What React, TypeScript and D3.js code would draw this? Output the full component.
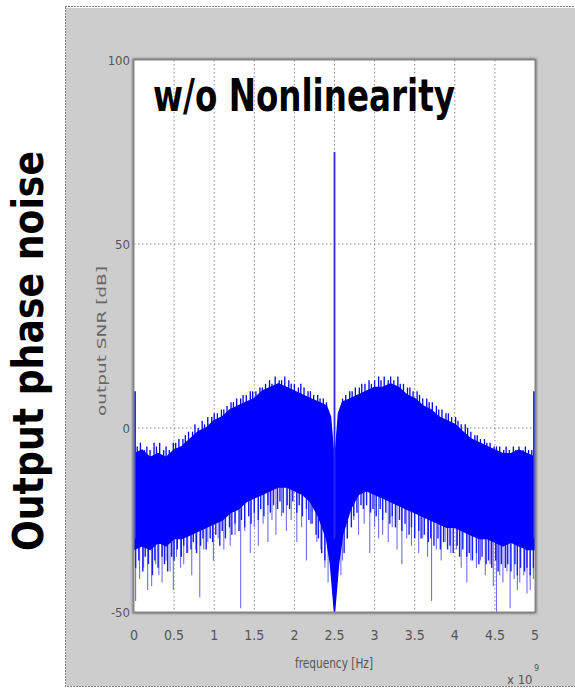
import React from 'react';
import * as d3 from 'd3';

const W = 575;
const H = 689;
const PLOT = { left: 134, right: 535, top: 60, bottom: 612 };

// x tick labels (in units of 1e9 Hz) and y ticks (dB)
const xTicks = [0, 0.5, 1, 1.5, 2, 2.5, 3, 3.5, 4, 4.5, 5];
const xTickLabels = ['0', '0.5', '1', '1.5', '2', '2.5', '3', '3.5', '4', '4.5', '5'];
const yTicks = [-50, 0, 50, 100];

// dense noise band: frequency, top edge, bottom edge (dB)
const bandFreq = [
  0, 0.1, 0.2, 0.3, 0.4, 0.5, 0.6, 0.7, 0.8, 0.9, 1.0, 1.1, 1.2, 1.3, 1.4, 1.5, 1.6, 1.7, 1.8, 1.9,
  2.0, 2.1, 2.2, 2.3, 2.4, 2.45, 2.5, 2.55, 2.6, 2.7, 2.8, 2.9, 3.0, 3.1, 3.2, 3.3, 3.4, 3.5, 3.6,
  3.7, 3.8, 3.9, 4.0, 4.1, 4.2, 4.3, 4.4, 4.5, 4.6, 4.7, 4.8, 4.9, 5.0,
];
const bandTop = [
  -7, -6, -8, -7, -8, -6, -5, -3, -1, 0, 2, 3, 5, 6, 7, 8, 10, 11, 12, 11,
  10, 9, 8, 7, 6, 3, -10, 4, 7, 8, 9, 10, 11, 11, 12, 11, 9, 8, 6,
  5, 3, 2, 1, -1, -3, -4, -5, -6, -7, -7, -6, -7, -8,
];
const bandBottom = [
  -33, -32, -33, -31, -32, -30, -30, -29, -28, -27, -26, -25, -23, -22, -20, -19, -18, -17, -16, -16,
  -17, -18, -20, -24, -30, -37, -50, -37, -29, -22, -18, -17, -18, -19, -20, -21, -22, -23, -24,
  -25, -26, -27, -27, -28, -29, -30, -30, -31, -32, -31, -32, -33, -33,
];

// ragged top fringe of the band
const topFringeFreq = [
  0.04, 0.08, 0.13, 0.16, 0.2, 0.25, 0.28, 0.32, 0.37, 0.4, 0.44, 0.49, 0.52, 0.56, 0.61, 0.64, 0.68, 0.73,
  0.76, 0.8, 0.85, 0.88, 0.92, 0.97, 1.0, 1.04, 1.09, 1.12, 1.16, 1.21, 1.24, 1.28, 1.33, 1.36, 1.4, 1.45,
  1.48, 1.52, 1.57, 1.6, 1.64, 1.69, 1.72, 1.76, 1.81, 1.84, 1.88, 1.93, 1.96, 2.0, 2.05, 2.08, 2.12, 2.17,
  2.2, 2.24, 2.29, 2.32, 2.36, 2.4,
  2.6, 2.64, 2.69, 2.72, 2.76, 2.81, 2.84, 2.88, 2.93, 2.96, 3.0, 3.05, 3.08, 3.12, 3.17, 3.2, 3.24, 3.29,
  3.32, 3.36, 3.41, 3.44, 3.48, 3.53, 3.56, 3.6, 3.65, 3.68, 3.72, 3.77, 3.8, 3.84, 3.89, 3.92, 3.96, 4.01,
  4.04, 4.08, 4.13, 4.16, 4.2, 4.25, 4.28, 4.32, 4.37, 4.4, 4.44, 4.49, 4.52, 4.56, 4.61, 4.64, 4.68, 4.73,
  4.76, 4.8, 4.85, 4.88, 4.92, 4.96,
];
const topFringeVal = [
  -5, -4, -6, -5, -6, -4, -5, -4, -6, -5, -6, -4, -4, -3, -3, -2, -1, -1,
  1, 0, 2, 1, 3, 3, 4, 4, 5, 5, 6, 7, 7, 8, 8, 9, 9, 10,
  10, 10, 11, 11, 12, 13, 12, 14, 13, 13, 14, 13, 12, 12, 11, 12, 11, 10,
  10, 9, 9, 8, 8, 7,
  8, 9, 10, 10, 11, 11, 12, 12, 13, 12, 13, 14, 13, 14, 13, 14, 13, 14,
  12, 12, 11, 11, 10, 10, 9, 8, 8, 7, 7, 6, 5, 5, 4, 4, 3, 3,
  2, 1, 1, 0, -1, -2, -2, -3, -3, -4, -4, -5, -5, -5, -6, -5, -6, -5,
  -6, -5, -6, -5, -6, -6,
];

// ragged bottom fringe of the band
const lowFringeFreq = [
  0.02, 0.06, 0.11, 0.14, 0.18, 0.23, 0.26, 0.3, 0.35, 0.38, 0.42, 0.47, 0.5, 0.54, 0.59, 0.62, 0.66, 0.71,
  0.74, 0.78, 0.83, 0.86, 0.9, 0.95, 0.98, 1.02, 1.07, 1.1, 1.14, 1.19, 1.22, 1.26, 1.31, 1.34, 1.38, 1.43,
  1.46, 1.5, 1.55, 1.58, 1.62, 1.67, 1.7, 1.74, 1.79, 1.82, 1.86, 1.91, 1.94, 1.98, 2.03, 2.06, 2.1, 2.15,
  2.18, 2.22, 2.27, 2.3, 2.34, 2.38,
  2.62, 2.66, 2.71, 2.74, 2.78, 2.83, 2.86, 2.9, 2.95, 2.98, 3.02, 3.07, 3.1, 3.14, 3.19, 3.22, 3.26, 3.31,
  3.34, 3.38, 3.43, 3.46, 3.5, 3.55, 3.58, 3.62, 3.67, 3.7, 3.74, 3.79, 3.82, 3.86, 3.91, 3.94, 3.98, 4.03,
  4.06, 4.1, 4.15, 4.18, 4.22, 4.27, 4.3, 4.34, 4.39, 4.42, 4.46, 4.51, 4.54, 4.58, 4.63, 4.66, 4.7, 4.75,
  4.78, 4.82, 4.87, 4.9, 4.94, 4.98,
];
const lowFringeVal = [
  -38, -36, -39, -35, -37, -40, -36, -38, -35, -37, -39, -35, -36, -33, -35, -32, -34, -33,
  -31, -34, -32, -30, -33, -30, -31, -29, -32, -28, -30, -27, -29, -26, -28, -25, -27, -24,
  -26, -23, -25, -22, -24, -21, -23, -21, -22, -20, -23, -21, -22, -20, -23, -21, -24, -22,
  -25, -26, -29, -30, -34, -36,
  -34, -30, -27, -24, -23, -21, -22, -21, -23, -22, -24, -22, -25, -23, -26, -24, -27, -25,
  -28, -26, -29, -27, -30, -28, -30, -29, -31, -30, -32, -30, -33, -31, -33, -32, -34, -32,
  -35, -33, -35, -34, -36, -34, -37, -35, -37, -36, -38, -36, -39, -37, -38, -37, -39, -37,
  -40, -38, -39, -38, -40, -38,
];

// deeper dips below the dense band
const dipFreq = [
  0.02, 0.07, 0.12, 0.17, 0.22, 0.27, 0.31, 0.35, 0.4, 0.45, 0.49, 0.53, 0.58, 0.62, 0.67, 0.72, 0.77, 0.82,
  0.87, 0.92, 0.99, 1.05, 1.12, 1.2, 1.26, 1.33, 1.38, 1.45, 1.5, 1.55, 1.61, 1.67, 1.72, 1.77, 1.84, 1.9,
  1.96, 2.03, 2.09, 2.15, 2.2, 2.28, 2.33, 2.38, 2.42, 2.58, 2.6, 2.66, 2.74, 2.8, 2.87, 2.94, 3.0, 3.05,
  3.1, 3.17, 3.22, 3.28, 3.34, 3.4, 3.46, 3.55, 3.6, 3.66, 3.71, 3.77, 3.83, 3.88, 3.95, 4.02, 4.08, 4.15,
  4.2, 4.27, 4.32, 4.38, 4.44, 4.48, 4.52, 4.56, 4.6, 4.65, 4.69, 4.74, 4.78, 4.81, 4.86, 4.9, 4.94, 4.98,
];
const dipVal = [
  -47, -41, -38, -44, -43, -37, -40, -42, -36, -39, -44, -35, -38, -37, -34, -40, -33, -46,
  -33, -31, -36, -30, -33, -32, -29, -49, -28, -34, -27, -32, -26, -31, -25, -29, -24, -28,
  -25, -31, -27, -36, -26, -31, -33, -38, -42, -40, -36, -30, -25, -29, -26, -34, -27, -30,
  -29, -31, -27, -33, -37, -30, -32, -34, -30, -35, -47, -33, -36, -31, -34, -33, -38, -42,
  -36, -38, -36, -40, -37, -43, -50, -40, -42, -39, -49, -41, -44, -42, -40, -45, -44, -41,
];

// isolated spectral lines: carrier and the two band edges
const lineFreq = [0, 2.5, 5];
const lineVal = [10, 75, 10];

const FONT = '"Liberation Sans Narrow", "DejaVu Sans Condensed", "Arial Narrow", sans-serif';

export default function App() {
  const x = d3.scaleLinear().domain([0, 5]).range([PLOT.left, PLOT.right]);
  const y = d3.scaleLinear().domain([-50, 100]).range([PLOT.bottom, PLOT.top]);

  const band = d3.area<number>()
    .x((_, i) => x(bandFreq[i]))
    .y0((_, i) => y(bandBottom[i]))
    .y1((_, i) => y(bandTop[i]))
    .curve(d3.curveLinear);

  const pw = PLOT.right - PLOT.left;
  const ph = PLOT.bottom - PLOT.top;

  return (
    <svg width={W} height={H} style={{ position: 'absolute', left: 0, top: 0 }}>
      <defs>
        <filter id="soft" x="-5%" y="-5%" width="110%" height="110%">
          <feGaussianBlur stdDeviation="1.2" />
        </filter>
        <clipPath id="plotClip">
          <rect x={PLOT.left} y={PLOT.top} width={pw} height={ph} />
        </clipPath>
      </defs>

      {/* outer frame */}
      <rect x={66} y={8} width={W} height={678} fill="#cdcdcd" />
      <rect x={65.5} y={6.5} width={W} height={680} fill="none" stroke="#000" strokeWidth={1} strokeDasharray="1,2" />

      {/* axes box with soft shadow */}
      <rect x={PLOT.left} y={PLOT.top} width={pw} height={ph} fill="none" stroke="#666" strokeWidth={3} filter="url(#soft)" />
      <rect x={PLOT.left} y={PLOT.top} width={pw} height={ph} fill="#fff" />

      {/* grid */}
      {xTicks.slice(1, -1).map(t => (
        <line key={'gx' + t} x1={x(t)} x2={x(t)} y1={PLOT.top} y2={PLOT.bottom}
          stroke="#8a8a8a" strokeWidth={1} strokeDasharray="1.5,2.5" />
      ))}
      {yTicks.slice(1, -1).map(t => (
        <line key={'gy' + t} x1={PLOT.left} x2={PLOT.right} y1={y(t)} y2={y(t)}
          stroke="#8a8a8a" strokeWidth={1.2} strokeDasharray="1.5,2.5" />
      ))}

      <g clipPath="url(#plotClip)">
        {/* deep dips */}
        {dipFreq.map((f, i) => (
          <line key={'d' + i} x1={x(f)} x2={x(f)} y1={y(-15)} y2={y(dipVal[i])}
            stroke="#5555f0" strokeWidth={1.1} opacity={0.85} />
        ))}
        {/* bottom fringe */}
        {lowFringeFreq.map((f, i) => (
          <line key={'lf' + i} x1={x(f)} x2={x(f)} y1={y(-15)} y2={y(lowFringeVal[i])}
            stroke="#1a1aff" strokeWidth={1.4} />
        ))}
        {/* top fringe */}
        {topFringeFreq.map((f, i) => (
          <line key={'tf' + i} x1={x(f)} x2={x(f)} y1={y(topFringeVal[i] - 8)} y2={y(topFringeVal[i])}
            stroke="#0000ff" strokeWidth={1.3} />
        ))}
        {/* dense band */}
        <path d={band(bandFreq) || ''} fill="#0000ff" stroke="#0000ff" strokeWidth={1.5} strokeLinejoin="round" />
        {/* spectral lines */}
        {lineFreq.map((f, i) => (
          <line key={'l' + i} x1={x(f) + (f === 0 ? 1 : f === 5 ? -1 : 0)} x2={x(f) + (f === 0 ? 1 : f === 5 ? -1 : 0)}
            y1={y(-30)} y2={y(lineVal[i])} stroke="#2a2aff" strokeWidth={f === 2.5 ? 1.8 : 2} />
        ))}
      </g>

      {/* plot border */}
      <rect x={PLOT.left} y={PLOT.top} width={pw} height={ph} fill="none" stroke="#888" strokeWidth={1} />

      {/* y tick labels */}
      {yTicks.map(t => (
        <text key={'yt' + t} x={PLOT.left - 4} y={y(t)} dy="0.35em" textAnchor="end"
          fontFamily={FONT} fontSize={13} fill="#555">{t}</text>
      ))}
      {/* x tick labels */}
      {xTicks.map((t, i) => (
        <text key={'xt' + t} x={x(t)} y={640} textAnchor="middle"
          fontFamily={FONT} fontSize={14} fill="#555">{xTickLabels[i]}</text>
      ))}

      <text x={334} y={668} textAnchor="middle" fontFamily={FONT} fontSize={14} fill="#555"
        textLength={78} lengthAdjust="spacingAndGlyphs">frequency [Hz]</text>
      <text x={507} y={684} fontFamily={FONT} fontSize={13} fill="#555">x 10</text>
      <text x={534} y={671} fontFamily={FONT} fontSize={9} fill="#555">9</text>

      <text transform="translate(106,341) rotate(-90)" textAnchor="middle" fontFamily={FONT}
        fontSize={13} fill="#666" textLength={150} lengthAdjust="spacingAndGlyphs">output SNR [dB]</text>

      {/* annotations */}
      <text x={153} y={111} fontFamily={FONT} fontWeight="bold" fontSize={44} fill="#000"
        textLength={302} lengthAdjust="spacingAndGlyphs">w/o Nonlinearity</text>
      <text transform="translate(43,551) rotate(-90)" fontFamily={FONT} fontWeight="bold" fontSize={42} fill="#000"
        textLength={400} lengthAdjust="spacingAndGlyphs">Output phase noise</text>
    </svg>
  );
}
